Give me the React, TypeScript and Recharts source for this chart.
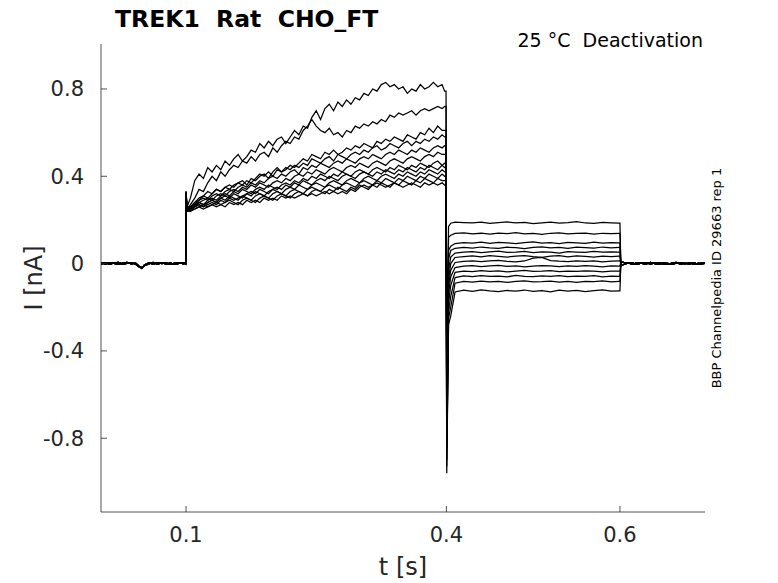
import { LineChart, Line, XAxis, YAxis } from "recharts";

// time grids (s)
const baseT = [0.002, 0.007, 0.012, 0.017, 0.022, 0.027, 0.032, 0.037, 0.042, 0.046, 0.049, 0.052, 0.057, 0.062, 0.067, 0.072, 0.077, 0.082, 0.087, 0.092, 0.097, 0.0995];
const actT = [
  0.105, 0.11, 0.115, 0.12, 0.125, 0.13, 0.135, 0.14, 0.145, 0.15,
  0.155, 0.16, 0.165, 0.17, 0.175, 0.18, 0.185, 0.19, 0.195, 0.2,
  0.205, 0.21, 0.215, 0.22, 0.225, 0.23, 0.235, 0.24, 0.245, 0.25,
  0.255, 0.26, 0.265, 0.27, 0.275, 0.28, 0.285, 0.29, 0.295, 0.3,
  0.305, 0.31, 0.315, 0.32, 0.325, 0.33, 0.335, 0.34, 0.345, 0.35,
  0.355, 0.36, 0.365, 0.37, 0.375, 0.38, 0.385, 0.39, 0.395, 0.398,
];
const tailT = [0.405, 0.41, 0.42, 0.43, 0.44, 0.45, 0.46, 0.47, 0.48, 0.49, 0.5, 0.51, 0.52, 0.53, 0.54, 0.55, 0.56, 0.57, 0.58, 0.59, 0.599];
const postT = [0.601, 0.605, 0.61, 0.615, 0.62, 0.625, 0.63, 0.635, 0.64, 0.645, 0.65, 0.655, 0.66, 0.665, 0.67, 0.675, 0.68, 0.685, 0.69, 0.698];

// holding current before / after the pulses (nA)
const baseA = [0.003, -0.002, 0.004, 0.001, -0.003, 0.002, 0.005, -0.001, 0.002, -0.012, -0.022, -0.006, 0.003, -0.002, 0.004, 0.0, 0.003, -0.003, 0.002, 0.004, -0.001, 0.002];
const baseB = [-0.002, 0.004, -0.003, 0.003, 0.005, -0.002, 0.001, 0.004, -0.003, -0.015, -0.018, -0.009, -0.001, 0.005, -0.003, 0.004, -0.002, 0.003, -0.004, 0.001, 0.004, -0.002];
const postA = [0.008, 0.004, 0.002, -0.003, 0.004, 0.001, -0.002, 0.005, 0.0, -0.003, 0.003, 0.001, -0.004, 0.002, 0.004, -0.001, 0.003, -0.002, 0.001, 0.002];
const postB = [-0.01, -0.003, 0.003, 0.002, -0.004, 0.003, 0.004, -0.002, 0.003, 0.004, -0.002, -0.003, 0.002, 0.005, -0.003, 0.002, -0.002, 0.004, -0.003, 0.001];

// activation step (0.1 - 0.4 s)
const act1 = [
  0.3, 0.38, 0.41, 0.39, 0.44, 0.42, 0.45, 0.43, 0.47, 0.45,
  0.48, 0.5, 0.47, 0.49, 0.52, 0.51, 0.55, 0.53, 0.56, 0.54,
  0.57, 0.58, 0.55, 0.58, 0.61, 0.59, 0.63, 0.62, 0.67, 0.7,
  0.66, 0.71, 0.73, 0.7, 0.74, 0.72, 0.75, 0.73, 0.76, 0.75,
  0.78, 0.77, 0.8, 0.79, 0.82, 0.83, 0.81, 0.82, 0.8, 0.81,
  0.78, 0.8, 0.79, 0.82, 0.8, 0.81, 0.83, 0.81, 0.82, 0.79,
];
const act2 = [
  0.27, 0.3, 0.34, 0.33, 0.37, 0.4, 0.38, 0.42, 0.4, 0.43,
  0.45, 0.44, 0.47, 0.46, 0.49, 0.47, 0.5, 0.51, 0.49, 0.53,
  0.51, 0.54, 0.56, 0.55, 0.58, 0.57, 0.61, 0.63, 0.66, 0.63,
  0.61, 0.6, 0.62, 0.59, 0.6, 0.58, 0.61, 0.6, 0.63, 0.62,
  0.64, 0.63, 0.65, 0.64, 0.66, 0.65, 0.68, 0.67, 0.69, 0.68,
  0.69, 0.7, 0.68, 0.7, 0.71, 0.7, 0.71, 0.72, 0.71, 0.72,
];
const act3 = [
  0.26, 0.28, 0.3, 0.31, 0.33, 0.32, 0.34, 0.33, 0.35, 0.36,
  0.35, 0.37, 0.38, 0.36, 0.39, 0.38, 0.4, 0.41, 0.39, 0.42,
  0.44, 0.42, 0.43, 0.45, 0.44, 0.46, 0.48, 0.47, 0.5, 0.49,
  0.48, 0.51, 0.5, 0.52, 0.5, 0.51, 0.53, 0.52, 0.54, 0.53,
  0.55, 0.54, 0.53, 0.56, 0.55, 0.57, 0.56, 0.58, 0.57, 0.56,
  0.59, 0.58, 0.57, 0.6, 0.59, 0.62, 0.6, 0.63, 0.61, 0.61,
];
const act4 = [
  0.26, 0.28, 0.29, 0.31, 0.3, 0.32, 0.34, 0.33, 0.35, 0.34,
  0.36, 0.37, 0.36, 0.38, 0.37, 0.39, 0.41, 0.4, 0.42, 0.4,
  0.43, 0.42, 0.44, 0.43, 0.45, 0.44, 0.46, 0.45, 0.48, 0.47,
  0.46, 0.48, 0.49, 0.47, 0.5, 0.49, 0.48, 0.5, 0.51, 0.5,
  0.52, 0.51, 0.53, 0.54, 0.52, 0.53, 0.55, 0.54, 0.53, 0.55,
  0.56, 0.54, 0.56, 0.55, 0.57, 0.56, 0.58, 0.57, 0.59, 0.58,
];
const act5 = [
  0.26, 0.27, 0.29, 0.3, 0.29, 0.31, 0.32, 0.31, 0.33, 0.34,
  0.33, 0.35, 0.36, 0.35, 0.37, 0.36, 0.38, 0.37, 0.39, 0.4,
  0.39, 0.41, 0.4, 0.42, 0.43, 0.41, 0.44, 0.43, 0.45, 0.44,
  0.46, 0.45, 0.44, 0.46, 0.47, 0.46, 0.48, 0.47, 0.46, 0.48,
  0.49, 0.48, 0.5, 0.49, 0.48, 0.5, 0.51, 0.5, 0.52, 0.51,
  0.5, 0.52, 0.51, 0.53, 0.52, 0.51, 0.53, 0.54, 0.53, 0.54,
];
const act6 = [
  0.25, 0.27, 0.28, 0.29, 0.3, 0.29, 0.31, 0.32, 0.31, 0.33,
  0.34, 0.33, 0.35, 0.34, 0.36, 0.35, 0.37, 0.36, 0.35, 0.37,
  0.38, 0.37, 0.39, 0.38, 0.4, 0.41, 0.4, 0.42, 0.41, 0.43,
  0.42, 0.41, 0.43, 0.44, 0.43, 0.42, 0.44, 0.45, 0.44, 0.46,
  0.45, 0.44, 0.46, 0.47, 0.46, 0.45, 0.47, 0.48, 0.47, 0.46,
  0.48, 0.49, 0.48, 0.47, 0.49, 0.5, 0.49, 0.51, 0.5, 0.5,
];
const act7 = [
  0.25, 0.27, 0.28, 0.27, 0.29, 0.3, 0.29, 0.31, 0.32, 0.31,
  0.33, 0.32, 0.34, 0.33, 0.32, 0.34, 0.35, 0.34, 0.36, 0.35,
  0.34, 0.36, 0.37, 0.36, 0.38, 0.37, 0.39, 0.38, 0.4, 0.39,
  0.41, 0.4, 0.39, 0.41, 0.4, 0.42, 0.41, 0.4, 0.42, 0.43,
  0.42, 0.41, 0.43, 0.44, 0.43, 0.42, 0.44, 0.43, 0.45, 0.44,
  0.43, 0.45, 0.44, 0.46, 0.45, 0.44, 0.46, 0.47, 0.45, 0.46,
];
const act8 = [
  0.25, 0.26, 0.28, 0.27, 0.28, 0.29, 0.28, 0.3, 0.31, 0.3,
  0.32, 0.31, 0.3, 0.32, 0.33, 0.32, 0.34, 0.33, 0.32, 0.34,
  0.35, 0.34, 0.36, 0.35, 0.37, 0.36, 0.38, 0.37, 0.36, 0.38,
  0.39, 0.38, 0.4, 0.39, 0.38, 0.4, 0.41, 0.4, 0.39, 0.41,
  0.42, 0.41, 0.4, 0.42, 0.41, 0.43, 0.42, 0.41, 0.43, 0.42,
  0.44, 0.43, 0.42, 0.44, 0.43, 0.45, 0.44, 0.43, 0.45, 0.44,
];
const act9 = [
  0.25, 0.26, 0.27, 0.26, 0.28, 0.29, 0.28, 0.3, 0.29, 0.31,
  0.3, 0.29, 0.31, 0.32, 0.31, 0.33, 0.32, 0.31, 0.33, 0.34,
  0.33, 0.32, 0.34, 0.35, 0.34, 0.36, 0.35, 0.34, 0.36, 0.37,
  0.36, 0.35, 0.37, 0.38, 0.37, 0.36, 0.38, 0.39, 0.38, 0.37,
  0.39, 0.4, 0.39, 0.38, 0.4, 0.41, 0.4, 0.39, 0.41, 0.4,
  0.42, 0.41, 0.4, 0.42, 0.41, 0.43, 0.42, 0.41, 0.43, 0.42,
];
const act10 = [
  0.24, 0.26, 0.27, 0.26, 0.27, 0.28, 0.27, 0.29, 0.28, 0.3,
  0.29, 0.3, 0.31, 0.3, 0.29, 0.31, 0.32, 0.31, 0.3, 0.32,
  0.33, 0.32, 0.31, 0.33, 0.34, 0.33, 0.32, 0.34, 0.35, 0.34,
  0.33, 0.35, 0.36, 0.35, 0.34, 0.36, 0.37, 0.36, 0.35, 0.37,
  0.38, 0.37, 0.36, 0.38, 0.37, 0.39, 0.38, 0.37, 0.39, 0.38,
  0.4, 0.39, 0.38, 0.4, 0.39, 0.41, 0.4, 0.39, 0.41, 0.4,
];
const act11 = [
  0.24, 0.25, 0.26, 0.27, 0.26, 0.27, 0.28, 0.27, 0.28, 0.29,
  0.28, 0.27, 0.29, 0.3, 0.29, 0.28, 0.3, 0.31, 0.3, 0.29,
  0.31, 0.32, 0.31, 0.3, 0.32, 0.33, 0.32, 0.31, 0.33, 0.34,
  0.33, 0.32, 0.34, 0.33, 0.35, 0.34, 0.33, 0.35, 0.34, 0.36,
  0.35, 0.34, 0.36, 0.35, 0.37, 0.36, 0.35, 0.37, 0.36, 0.38,
  0.37, 0.36, 0.38, 0.37, 0.39, 0.38, 0.37, 0.39, 0.38, 0.38,
];
const act12 = [
  0.24, 0.25, 0.26, 0.25, 0.26, 0.27, 0.26, 0.27, 0.26, 0.28,
  0.27, 0.28, 0.27, 0.29, 0.28, 0.29, 0.28, 0.3, 0.29, 0.3,
  0.29, 0.31, 0.3, 0.31, 0.3, 0.31, 0.32, 0.31, 0.32, 0.31,
  0.32, 0.33, 0.32, 0.33, 0.32, 0.33, 0.32, 0.34, 0.33, 0.35,
  0.36, 0.35, 0.36, 0.37, 0.36, 0.35, 0.36, 0.37, 0.36, 0.35,
  0.36, 0.37, 0.36, 0.35, 0.37, 0.36, 0.37, 0.36, 0.37, 0.36,
];

// deactivation tails (0.4 - 0.6 s)
const tail1 = [0.185, 0.19, 0.188, 0.186, 0.19, 0.184, 0.188, 0.191, 0.186, 0.189, 0.183, 0.187, 0.19, 0.185, 0.188, 0.192, 0.186, 0.184, 0.189, 0.187, 0.185];
const tail2 = [0.13, 0.138, 0.141, 0.136, 0.139, 0.135, 0.14, 0.137, 0.142, 0.136, 0.138, 0.134, 0.139, 0.141, 0.136, 0.138, 0.14, 0.135, 0.139, 0.137, 0.138];
const tail3 = [0.08, 0.092, 0.096, 0.094, 0.098, 0.093, 0.097, 0.095, 0.091, 0.096, 0.099, 0.094, 0.096, 0.092, 0.097, 0.095, 0.093, 0.098, 0.094, 0.096, 0.095];
const tail4 = [0.06, 0.07, 0.074, 0.071, 0.076, 0.072, 0.07, 0.075, 0.073, 0.069, 0.074, 0.077, 0.072, 0.074, 0.07, 0.075, 0.073, 0.071, 0.076, 0.072, 0.074];
const tail5 = [0.03, 0.048, 0.052, 0.055, 0.05, 0.054, 0.057, 0.051, 0.053, 0.056, 0.05, 0.054, 0.052, 0.048, 0.055, 0.053, 0.051, 0.056, 0.052, 0.054, 0.053];
const tail6 = [0.0, 0.028, 0.032, 0.035, 0.031, 0.036, 0.033, 0.03, 0.034, 0.037, 0.032, 0.029, 0.034, 0.036, 0.031, 0.035, 0.033, 0.03, 0.034, 0.032, 0.034];
const tail7 = [-0.03, 0.005, 0.01, 0.013, 0.009, 0.012, 0.015, 0.01, 0.008, 0.012, 0.025, 0.028, 0.014, 0.011, 0.009, 0.013, 0.01, 0.012, 0.008, 0.011, 0.012];
const tail8 = [-0.06, -0.018, -0.012, -0.009, -0.014, -0.011, -0.008, -0.013, -0.01, -0.015, -0.012, -0.009, -0.011, -0.014, -0.01, -0.013, -0.009, -0.012, -0.015, -0.011, -0.012];
const tail9 = [-0.1, -0.04, -0.034, -0.037, -0.032, -0.036, -0.033, -0.038, -0.034, -0.031, -0.036, -0.035, -0.032, -0.037, -0.034, -0.036, -0.033, -0.035, -0.038, -0.034, -0.035];
const tail10 = [-0.15, -0.064, -0.056, -0.06, -0.055, -0.059, -0.057, -0.061, -0.054, -0.058, -0.06, -0.056, -0.059, -0.055, -0.06, -0.057, -0.058, -0.055, -0.061, -0.057, -0.058];
const tail11 = [-0.2, -0.09, -0.082, -0.085, -0.08, -0.084, -0.081, -0.086, -0.082, -0.079, -0.084, -0.083, -0.08, -0.085, -0.082, -0.086, -0.081, -0.083, -0.079, -0.084, -0.082];
const tail12 = [-0.24, -0.13, -0.122, -0.127, -0.12, -0.125, -0.128, -0.123, -0.126, -0.121, -0.127, -0.124, -0.129, -0.122, -0.126, -0.123, -0.128, -0.124, -0.12, -0.126, -0.125];

const activations = [act1, act2, act3, act4, act5, act6, act7, act8, act9, act10, act11, act12];
const tails = [tail5, tail9, tail2, tail11, tail7, tail1, tail12, tail4, tail10, tail3, tail8, tail6];
const onsetPeak = [0.33, 0.32, 0.31, 0.33, 0.3, 0.32, 0.31, 0.29, 0.32, 0.3, 0.31, 0.33];
const onsetSettle = [0.26, 0.25, 0.25, 0.26, 0.24, 0.25, 0.25, 0.24, 0.25, 0.24, 0.25, 0.24];
const spikeMin = [-0.62, -0.85, -0.42, -0.93, -0.74, -0.35, -0.96, -0.56, -0.9, -0.5, -0.8, -0.68];
const tailDip = [-0.03, -0.18, 0.12, -0.25, -0.1, 0.17, -0.28, 0.02, -0.22, 0.06, -0.14, -0.07];

const xTicks = [0.1, 0.4, 0.6];
const yTicks = [-0.8, -0.4, 0, 0.4, 0.8];

const FONT = "DejaVu Sans";
const INK = "#262626";

function sweepData(k: number) {
  const base = k % 2 === 0 ? baseA : baseB;
  const post = k % 2 === 0 ? postA : postB;
  const act = activations[k];
  const tail = tails[k];
  const pts: { t: number; i: number }[] = [];
  baseT.forEach((t, j) => pts.push({ t, i: base[j] }));
  pts.push({ t: 0.1, i: onsetPeak[k] });
  pts.push({ t: 0.1012, i: onsetSettle[k] });
  actT.forEach((t, j) => pts.push({ t, i: act[j] }));
  pts.push({ t: 0.3996, i: act[act.length - 1] });
  pts.push({ t: 0.4004, i: spikeMin[k] });
  pts.push({ t: 0.4025, i: tailDip[k] });
  tailT.forEach((t, j) => pts.push({ t, i: tail[j] }));
  pts.push({ t: 0.6, i: tail[tail.length - 1] });
  postT.forEach((t, j) => pts.push({ t, i: post[j] }));
  return pts;
}

const sweeps = activations.map((_, k) => sweepData(k));

const XTick = (props: any) => {
  const { x, y, payload } = props;
  return (
    <g>
      <line x1={x} y1={y} x2={x} y2={y - 6} stroke={INK} strokeWidth={0.8} />
      <text x={x} y={y + 30} textAnchor="middle" fontFamily={FONT} fontSize={21} fill={INK}>
        {payload.value}
      </text>
    </g>
  );
};

const YTick = (props: any) => {
  const { x, y, payload } = props;
  return (
    <g>
      <line x1={x} y1={y} x2={x + 6} y2={y} stroke={INK} strokeWidth={0.8} />
      <text x={x - 17} y={y + 7.5} textAnchor="end" fontFamily={FONT} fontSize={21} fill={INK}>
        {payload.value}
      </text>
    </g>
  );
};

export default function App() {
  return (
    <div style={{ position: "absolute", left: 0, top: 0, width: 778, height: 583, background: "#fff" }}>
      <LineChart width={778} height={583} margin={{ top: 44, right: 73, bottom: 0, left: 0 }}>
        <XAxis
          type="number"
          dataKey="t"
          domain={[0.002, 0.698]}
          ticks={xTicks}
          allowDataOverflow
          height={71}
          tickSize={0}
          tickMargin={0}
          tickLine={false}
          axisLine={{ stroke: INK, strokeWidth: 0.8 }}
          tick={<XTick />}
        />
        <YAxis
          type="number"
          domain={[-1.138, 1.006]}
          ticks={yTicks}
          allowDataOverflow
          width={101}
          tickSize={0}
          tickMargin={0}
          tickLine={false}
          axisLine={{ stroke: INK, strokeWidth: 0.8 }}
          tick={<YTick />}
        />
        {sweeps.map((d, k) => (
          <Line
            key={k}
            data={d}
            dataKey="i"
            type="linear"
            dot={false}
            stroke="#000"
            strokeWidth={1.25}
            isAnimationActive={false}
          />
        ))}
      </LineChart>
      <svg width={778} height={583} style={{ position: "absolute", left: 0, top: 0, pointerEvents: "none" }}>
        <text x={115} y={27} fontFamily={FONT} fontSize={23.5} fontWeight="bold" fill="#000" style={{ whiteSpace: "pre" }}>
          {"TREK1  Rat  CHO_FT"}
        </text>
        <text x={703} y={47} textAnchor="end" fontFamily={FONT} fontSize={19} fill="#000" style={{ whiteSpace: "pre" }}>
          {"25 °C  Deactivation"}
        </text>
        <text x={403} y={575} textAnchor="middle" fontFamily={FONT} fontSize={24} fill={INK}>
          t [s]
        </text>
        <text x={42} y={278} textAnchor="middle" fontFamily={FONT} fontSize={24} fill={INK} transform="rotate(-90 42 278)">
          I [nA]
        </text>
        <text x={721} y={278} textAnchor="middle" fontFamily={FONT} fontSize={13} fill="#000" transform="rotate(-90 721 278)">
          BBP Channelpedia ID 29663 rep 1
        </text>
      </svg>
    </div>
  );
}
